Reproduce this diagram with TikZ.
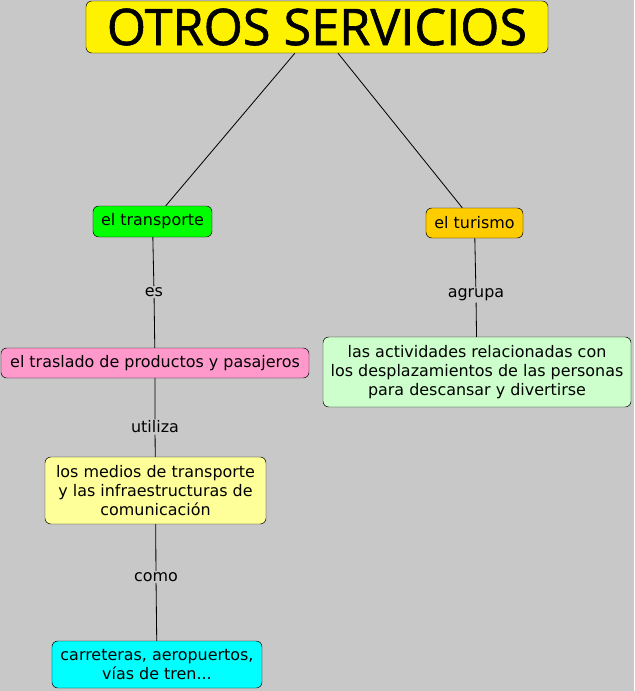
\documentclass[tikz,border=0pt]{standalone}
\usepackage{fontspec}
\setmainfont{DejaVu Sans}
\newfontfamily\titlefont[FakeBold=1.2]{Open Sans}
\definecolor{fondo}{RGB}{200,200,200}
\definecolor{verde}{HTML}{00FF00}
\definecolor{naranja}{HTML}{FFCC00}
\definecolor{rosa}{HTML}{FF99CC}
\definecolor{verdeclaro}{HTML}{CCFFCC}
\definecolor{amarilloclaro}{HTML}{FFFF99}
\definecolor{celeste}{HTML}{00FFFF}
\usetikzlibrary{positioning}

\begin{document}
\begin{tikzpicture}[x=0.03cm, y=-0.03cm, every node/.style={font=\fontsize{13.6}{16.2}\selectfont}]
        \tikzset{
          concepto/.style={draw=black, rounded corners=5pt, align=center,
                           inner sep=2pt},
          enlace/.style={inner sep=1pt, fill=fondo}
        }
        \fill[fondo] (0,0) rectangle (634,691);
        \useasboundingbox (0,0) rectangle (634,691);

        \node[concepto, fill=yellow, minimum width=13.86cm, minimum height=1.56cm,
              font=\titlefont\fontsize{43}{43}\selectfont]
              (titulo) at (317, 27) {OTROS SERVICIOS};

        \node[concepto, fill=verde, minimum width=3.57cm, minimum height=0.93cm]
              (transporte) at (152.5, 221.5) {el transporte};
        \node[concepto, fill=naranja, minimum width=2.91cm, minimum height=0.9cm]
              (turismo) at (474.5, 223) {el turismo};

        \node[concepto, fill=rosa, minimum width=9.24cm, minimum height=0.9cm]
              (traslado) at (155, 363) {el traslado de productos y pasajeros};
        \node[concepto, fill=verdeclaro, minimum width=9.24cm, minimum height=2.1cm]
              (actividades) at (477, 372)
              {las actividades relacionadas con\\los desplazamientos de las personas\\para descansar y divertirse};

        \node[concepto, fill=amarilloclaro, minimum width=6.63cm, minimum height=2.01cm]
              (medios) at (155.5, 490.5)
              {los medios de transporte \\ y las infraestructuras de\\comunicación};
        \node[concepto, fill=celeste, minimum width=6.3cm, minimum height=1.41cm]
              (carreteras) at (157, 664.5) {carreteras, aeropuertos,\\vías de tren...};

        \node[enlace] (es) at (154, 292) {es};
        \node[enlace] (agrupa) at (476, 295) {agrupa};
        \node[enlace] (utiliza) at (155, 427) {utiliza};
        \node[enlace] (como) at (156, 577) {como};

        \draw[line width=0.7pt] (titulo) -- (transporte);
        \draw[line width=0.7pt] (titulo) -- (turismo);
        \draw[line width=0.7pt] (transporte) -- (es) -- (traslado);
        \draw[line width=0.7pt] (turismo) -- (agrupa) -- (actividades);
        \draw[line width=0.7pt] (traslado) -- (utiliza) -- (medios);
        \draw[line width=0.7pt] (medios) -- (como) -- (carreteras);
      \end{tikzpicture}
\end{document}
